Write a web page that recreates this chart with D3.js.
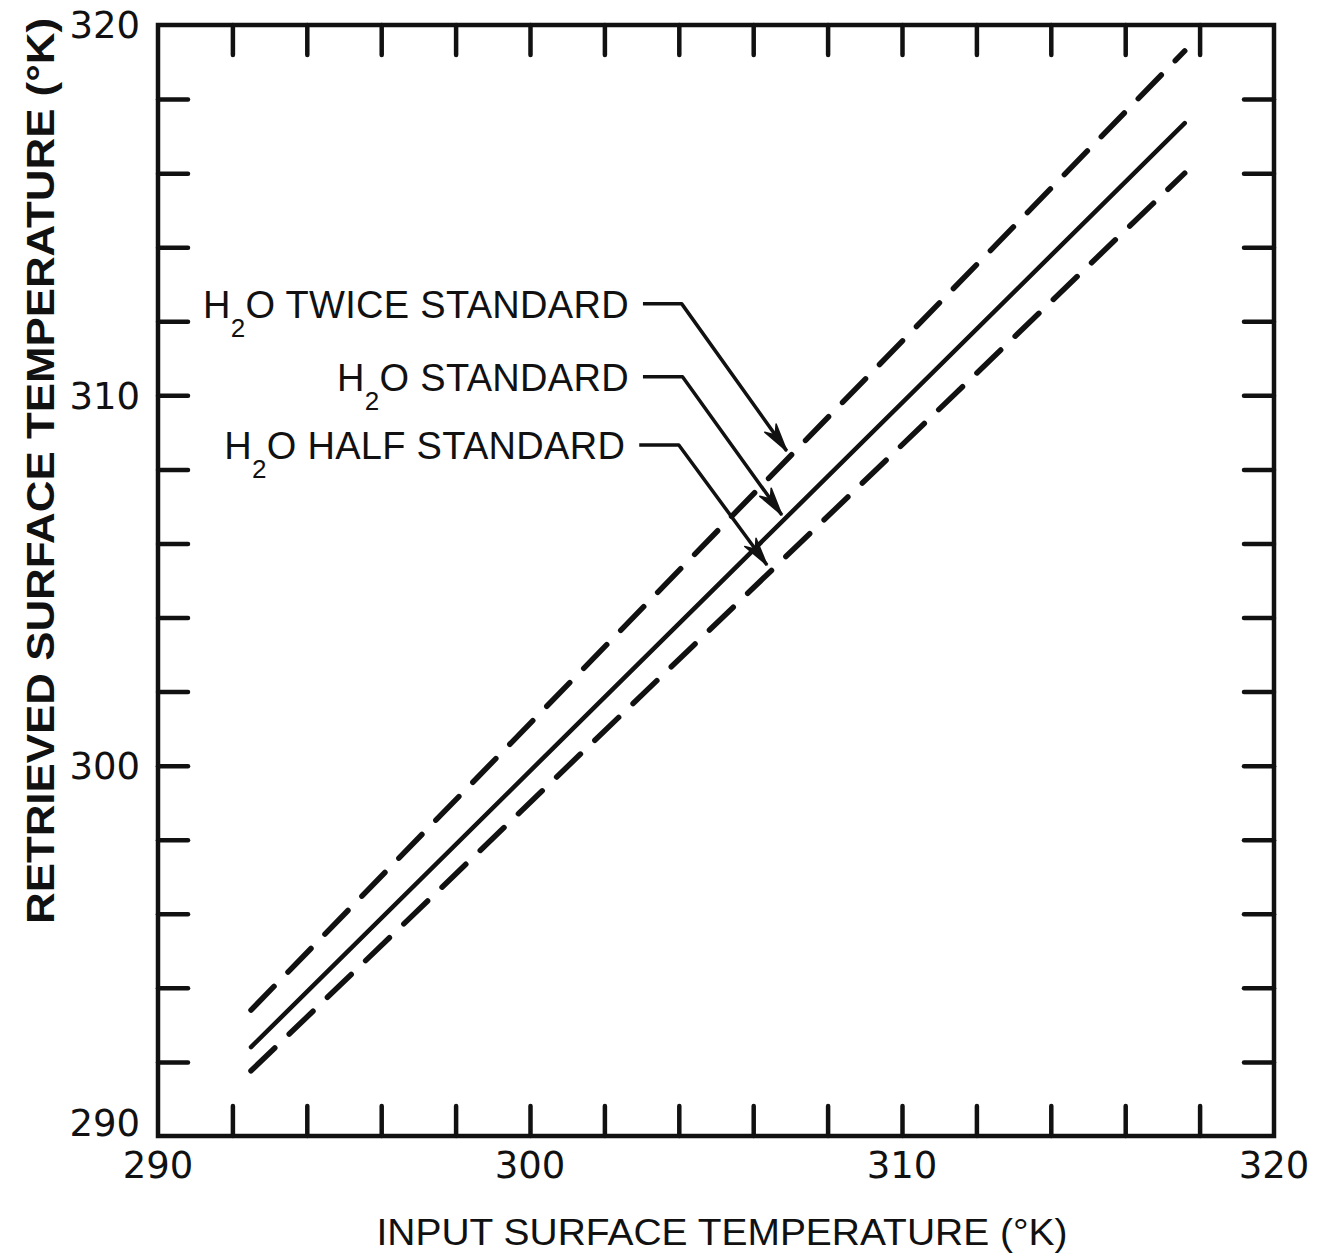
<!DOCTYPE html>
<html>
<head>
<meta charset="utf-8">
<script src="https://cdn.jsdelivr.net/npm/d3@7"></script>
<style>
  html, body { margin: 0; padding: 0; background: #fff; }
  svg { display: block; }
</style>
</head>
<body>
<div id="chart"></div>
<script>
// axis values
var xDomain = [290, 320];
var yDomain = [290, 320];
var majorTicks = [290, 300, 310, 320];
var minorTicks = [292, 294, 296, 298, 300, 302, 304, 306, 308, 310, 312, 314, 316, 318];

// lines (input temperature -> retrieved temperature)
var inputTemp = [292.5, 317.6];
var twiceStandard = [293.4, 319.3];
var standard = [292.4, 317.35];
var halfStandard = [291.76, 316.0];

// annotation labels with leader arrows
var labelNames = ["TWICE STANDARD", "STANDARD", "HALF STANDARD"];
var labelY = [312.47, 310.5, 308.66];
var labelEndX = [302.66, 302.66, 302.56];
var leaderKneeX = [304.08, 304.1, 304.0];
var arrowTipX = [306.9, 306.77, 306.37];
var arrowTipY = [308.5, 306.77, 305.42];

var xTitle = "INPUT SURFACE TEMPERATURE (°K)";
var yTitle = "RETRIEVED SURFACE TEMPERATURE (°K)";

window.onload = function () {
    var W = 1317, H = 1260;
    var left = 158, right = 1274, top = 25, bottom = 1136;

    var svg = d3.select("#chart").append("svg")
        .attr("width", W)
        .attr("height", H)
        .style("background", "#fff");

    var x = d3.scaleLinear().domain(xDomain).range([left, right]);
    var y = d3.scaleLinear().domain(yDomain).range([bottom, top]);

    var ink = "#111";
    var tickLen = 30;

    // inward ticks on all four sides, no labels
    function ticks(axisFn, scale, tr) {
        var g = svg.append("g").attr("transform", tr)
            .call(axisFn(scale).tickValues(minorTicks).tickSize(tickLen).tickFormat(""));
        g.select(".domain").remove();
        g.selectAll(".tick line")
            .attr("stroke", ink)
            .attr("stroke-width", 4.5)
            .attr("stroke-linecap", "round");
    }
    ticks(function (s) { return d3.axisTop(s); }, x, "translate(0," + bottom + ")");
    ticks(function (s) { return d3.axisBottom(s); }, x, "translate(0," + top + ")");
    ticks(function (s) { return d3.axisRight(s); }, y, "translate(" + left + ",0)");
    ticks(function (s) { return d3.axisLeft(s); }, y, "translate(" + right + ",0)");

    // frame
    svg.append("rect")
        .attr("x", left).attr("y", top)
        .attr("width", right - left).attr("height", bottom - top)
        .attr("fill", "none")
        .attr("stroke", ink)
        .attr("stroke-width", 4.5);

    // tick labels
    var numFont = "'DejaVu Sans', sans-serif";
    svg.append("g").selectAll("text")
        .data(majorTicks).enter().append("text")
        .attr("x", function (d) { return x(d); })
        .attr("y", bottom + 42)
        .attr("text-anchor", "middle")
        .attr("font-family", numFont)
        .attr("font-size", 37)
        .attr("fill", ink)
        .text(function (d) { return d; });

    svg.append("g").selectAll("text")
        .data(majorTicks).enter().append("text")
        .attr("x", left - 18)
        .attr("y", function (d) { return y(d) + (d === 290 ? -13 : 0); })
        .attr("dy", "0.36em")
        .attr("text-anchor", "end")
        .attr("font-family", numFont)
        .attr("font-size", 37)
        .attr("fill", ink)
        .text(function (d) { return d; });

    // axis titles
    svg.append("text")
        .attr("x", 722)
        .attr("y", 1245)
        .attr("text-anchor", "middle")
        .attr("font-family", "'Liberation Sans', sans-serif")
        .attr("font-size", 37)
        .attr("textLength", 691)
        .attr("lengthAdjust", "spacingAndGlyphs")
        .attr("fill", ink)
        .text(xTitle);

    svg.append("text")
        .attr("transform", "translate(54,471) rotate(-90)")
        .attr("text-anchor", "middle")
        .attr("font-family", "'Liberation Sans', sans-serif")
        .attr("font-weight", "bold")
        .attr("font-size", 38)
        .attr("textLength", 906)
        .attr("lengthAdjust", "spacingAndGlyphs")
        .attr("fill", ink)
        .text(yTitle);

    // the three curves
    var series = [
        { vals: twiceStandard, dash: "33,20", width: 5.5 },
        { vals: standard, dash: null, width: 4.5 },
        { vals: halfStandard, dash: "33,20", width: 5.5 }
    ];
    var line = d3.line()
        .x(function (d) { return x(d[0]); })
        .y(function (d) { return y(d[1]); });

    series.forEach(function (s) {
        var pts = inputTemp.map(function (v, i) { return [v, s.vals[i]]; });
        svg.append("path")
            .datum(pts)
            .attr("d", line)
            .attr("fill", "none")
            .attr("stroke", ink)
            .attr("stroke-width", s.width)
            .attr("stroke-linecap", "round")
            .attr("stroke-dasharray", s.dash);
    });

    // labels + leaders
    labelNames.forEach(function (name, i) {
        var ty = y(labelY[i]);
        var t = svg.append("text")
            .attr("x", x(labelEndX[i]))
            .attr("y", ty + 14)
            .attr("text-anchor", "end")
            .attr("font-family", "'Liberation Sans', sans-serif")
            .attr("font-size", 38)
            .attr("letter-spacing", 0.3)
            .attr("fill", ink);
        t.append("tspan").text("H");
        t.append("tspan").attr("font-size", 26).attr("dy", 19).text("2");
        t.append("tspan").attr("dy", -19).text("O  " + name);

        var x0 = x(labelEndX[i]) + 14, x1 = x(leaderKneeX[i]);
        var tx = x(arrowTipX[i]), tyy = y(arrowTipY[i]);
        svg.append("path")
            .attr("d", "M" + x0 + "," + ty + "L" + x1 + "," + ty + "L" + tx + "," + tyy)
            .attr("fill", "none")
            .attr("stroke", ink)
            .attr("stroke-width", 3.5)
            .attr("stroke-linejoin", "round");

        // arrowhead
        var ang = Math.atan2(tyy - ty, tx - x1);
        var len = 28, half = 7;
        var bx = tx - len * Math.cos(ang), by = tyy - len * Math.sin(ang);
        var nx = tx - len * 0.7 * Math.cos(ang), ny = tyy - len * 0.7 * Math.sin(ang);
        var px = -Math.sin(ang) * half, py = Math.cos(ang) * half;
        svg.append("path")
            .attr("d", "M" + tx + "," + tyy +
                "L" + (bx + px) + "," + (by + py) +
                "L" + nx + "," + ny +
                "L" + (bx - px) + "," + (by - py) + "Z")
            .attr("fill", ink)
            .attr("stroke", ink)
            .attr("stroke-width", 1.5)
            .attr("stroke-linejoin", "round");
    });
};
</script>
</body>
</html>
